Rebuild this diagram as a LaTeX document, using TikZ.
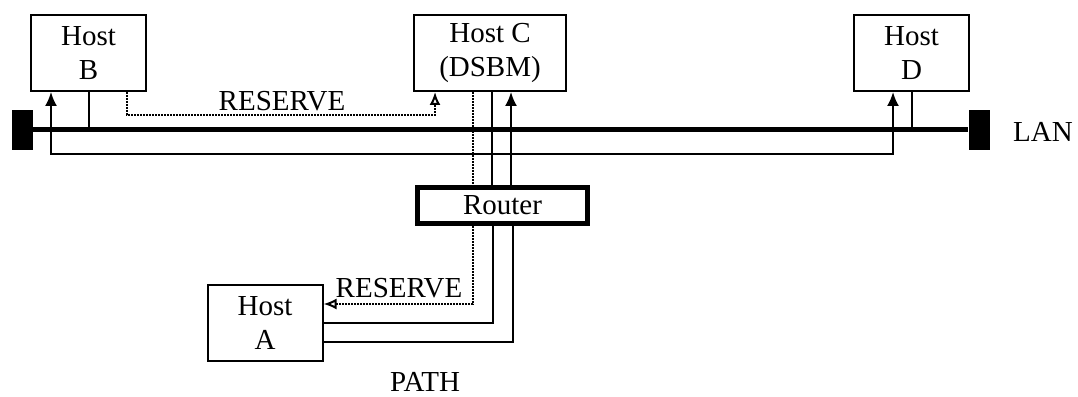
\documentclass[tikz,border=0pt]{standalone}
\usepackage{fontspec}
\setmainfont{Liberation Serif}
\usetikzlibrary{arrows.meta}

\begin{document}
\begin{tikzpicture}[
        x=1pt, y=1pt,
        font=\fontsize{29}{34}\selectfont,
        hostNode/.style={rectangle, draw, line width=2pt, align=center, minimum width=115pt, minimum height=76pt, inner sep=0pt},
        routerNode/.style={rectangle, draw, line width=5pt, align=center, minimum width=170pt, minimum height=36pt, inner sep=0pt},
        endNode/.style={rectangle, fill=black, minimum width=21pt, minimum height=40pt, inner sep=0pt},
        labelNode/.style={anchor=base, inner sep=0pt},
        bus/.style={line width=5pt},
        line/.style={line width=2pt},
        msg/.style={line width=2pt, densely dotted},
        arr/.style={-{Latex[length=14pt, width=12pt]}},
        openArr/.style={-{Latex[open, length=13pt, width=11pt]}}
    ]
        \useasboundingbox (0, 0) rectangle (1078, 396);

        \node[hostNode] (hostB) at (88.5, 343) {Host\\B};
        \node[hostNode, minimum width=152pt] (hostC) at (490, 343) {Host C\\(DSBM)};
        \node[hostNode] (hostD) at (911.5, 343) {Host\\D};
        \node[hostNode] (hostA) at (265, 72.5) {Host\\A};
        \node[endNode] (lanL) at (22.5, 266) {};
        \node[endNode] (lanR) at (979, 266) {};
        \node[labelNode] (lanLabel) at (1043, 254) {LAN};
        \node[labelNode] (reserveTop) at (282, 285) {RESERVE};
        \node[labelNode] (reserveLow) at (399, 98) {RESERVE};
        \node[labelNode] (pathLabel) at (425, 5) {PATH};

        \draw[bus] (lanL.east) -- (lanR.west);
        \draw[line] (hostB.south) -- (hostB.south |- lanL.east);
        \draw[line] (hostD.south) -- (hostD.south |- lanR.west);
        \draw[line, {Latex[length=14pt, width=12pt]}-{Latex[length=14pt, width=12pt]}]
            ([xshift=-37.5]hostB.south) -- ++(0, -62) -| ([xshift=-18.5]hostD.south);
        \draw[msg, openArr] ([xshift=38.5]hostB.south) -- ++(0, -23) -| ([xshift=-55]hostC.south);

        \node[routerNode] (router) at (502.5, 190.5) {Router};

        \draw[msg] ([xshift=-17]hostC.south) -- ([xshift=-17]hostC.south |- router.north);
        \draw[line] ([xshift=2]hostC.south) -- ([xshift=2]hostC.south |- router.north);
        \draw[line, arr] ([xshift=21]hostC.south |- router.north) -- ([xshift=21]hostC.south);

        \draw[msg, openArr] ([xshift=-29.5]router.south) |- ([yshift=19.5]hostA.east);
        \draw[line] ([xshift=-9.5]router.south) |- (hostA.east);
        \draw[line] ([yshift=-18.5]hostA.east) -| ([xshift=10.5]router.south);
    \end{tikzpicture}
\end{document}
